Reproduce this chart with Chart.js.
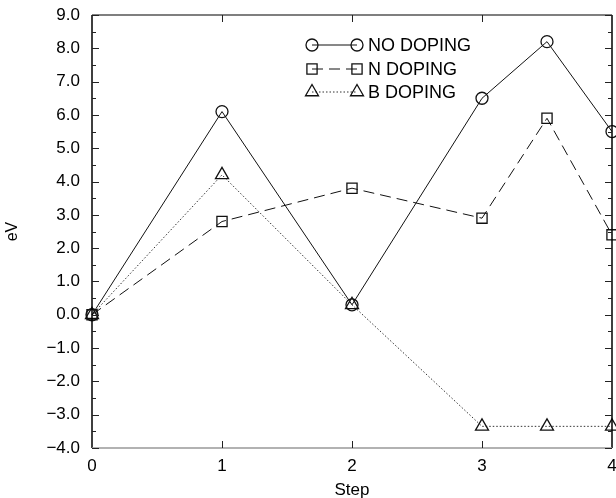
<!DOCTYPE html>
<html>
<head>
<meta charset="utf-8">
<script src="https://cdn.jsdelivr.net/npm/chart.js@4"></script>
<style>
html,body{margin:0;padding:0;background:#fff;}
#wrap{width:616px;height:498px;}
</style>
</head>
<body>
<div id="wrap"><canvas id="c" width="616" height="498"></canvas></div>
<script>
const steps = [0, 1, 2, 3, 3.5, 4];
const noDoping = [0, 6.1, 0.3, 6.5, 8.2, 5.5];
const nDoping = [0, 2.8, 3.8, 2.9, 5.9, 2.4];
const bDoping = [0, 4.2, 0.3, -3.35, -3.35, -3.35];
const seriesNames = ['NO DOPING', 'N DOPING', 'B DOPING'];
const xTickValues = [0, 1, 2, 3, 4];

const FONT = "'Liberation Sans', Arial, Helvetica, sans-serif";

function pts(vals){ return steps.map((s,i)=>({x:s,y:vals[i]})); }

const styles = [
  {pointStyle:'circle', radius:6, dash:[], width:1, color:'#111'},
  {pointStyle:'rect', radius:7.2, dash:[11,6], width:1, color:'#111'},
  {pointStyle:'triangle', radius:7.5, dash:[1.5,2], width:1, color:'#333'}
];

const datasets = [noDoping, nDoping, bDoping].map((vals,i)=>({
  label: seriesNames[i],
  data: pts(vals),
  borderColor: styles[i].color,
  borderWidth: styles[i].width,
  borderDash: styles[i].dash,
  pointStyle: styles[i].pointStyle,
  pointRadius: styles[i].radius,
  pointBorderColor: '#111',
  pointBackgroundColor: 'rgba(0,0,0,0)',
  pointBorderWidth: 1.3,
  fill: false,
  tension: 0,
  clip: false
}));

const framePlugin = {
  id: 'frame',
  afterDraw(chart){
    const ctx = chart.ctx, a = chart.chartArea;
    const xs = chart.scales.x, ys = chart.scales.y;
    ctx.save();
    ctx.lineWidth = 1.5;
    ctx.strokeStyle = '#000';
    ctx.beginPath();
    ctx.moveTo(a.left, a.top); ctx.lineTo(a.left, a.bottom);
    ctx.moveTo(a.right, a.top); ctx.lineTo(a.right, a.bottom);
    ctx.stroke();
    ctx.strokeStyle = '#555';
    ctx.beginPath();
    ctx.moveTo(a.left, a.top); ctx.lineTo(a.right, a.top);
    ctx.stroke();
    ctx.strokeStyle = '#999';
    ctx.beginPath();
    ctx.moveTo(a.left, a.bottom); ctx.lineTo(a.right, a.bottom);
    ctx.stroke();
    ctx.lineWidth = 1;
    ctx.strokeStyle = '#222';
    ctx.beginPath();
    ys.ticks.forEach(t=>{
      const y = Math.round(ys.getPixelForValue(t.value))+0.5;
      ctx.moveTo(a.left, y); ctx.lineTo(a.left+7, y);
      ctx.moveTo(a.right, y); ctx.lineTo(a.right-7, y);
      const m = t.value + 0.5;
      if (m < ys.max){
        const ym = Math.round(ys.getPixelForValue(m))+0.5;
        ctx.moveTo(a.left, ym); ctx.lineTo(a.left+4, ym);
        ctx.moveTo(a.right, ym); ctx.lineTo(a.right-4, ym);
      }
    });
    xs.ticks.forEach(t=>{
      if (t.value <= xs.min || t.value >= xs.max) return;
      const x = Math.round(xs.getPixelForValue(t.value))+0.5;
      ctx.moveTo(x, a.bottom); ctx.lineTo(x, a.bottom-7);
      ctx.moveTo(x, a.top); ctx.lineTo(x, a.top+7);
    });
    ctx.stroke();

    const rows = [45, 69, 92];
    const x1 = 312, x2 = 357, tx = 368;
    chart.data.datasets.forEach((ds,i)=>{
      const y = rows[i];
      ctx.save();
      ctx.strokeStyle = ds.borderColor;
      ctx.lineWidth = ds.borderWidth;
      ctx.setLineDash(ds.borderDash);
      ctx.beginPath(); ctx.moveTo(x1, y); ctx.lineTo(x2, y); ctx.stroke();
      ctx.setLineDash([]);
      ctx.restore();
      ctx.save();
      ctx.strokeStyle = '#111';
      ctx.fillStyle = 'rgba(0,0,0,0)';
      ctx.lineWidth = 1.3;
      const ps = {pointStyle: ds.pointStyle, radius: ds.pointRadius, rotation: 0, borderWidth: 1.3};
      Chart.helpers.drawPoint(ctx, ps, x1, y);
      Chart.helpers.drawPoint(ctx, ps, x2, y);
      ctx.restore();
      ctx.save();
      ctx.fillStyle = '#000';
      ctx.font = '18px ' + FONT;
      ctx.textBaseline = 'middle';
      ctx.fillText(ds.label, tx, y+1);
      ctx.restore();
    });
    ctx.restore();
  }
};

new Chart(document.getElementById('c'), {
  type: 'line',
  data: { datasets },
  options: {
    responsive: false,
    animation: false,
    layout: { autoPadding: false, padding: { top: 15, right: 4, left: 0, bottom: 0 } },
    plugins: { legend: { display: false }, tooltip: { enabled: false } },
    scales: {
      x: {
        type: 'linear', min: 0, max: 4,
        afterBuildTicks(s){ s.ticks = xTickValues.map(v=>({value:v})); },
        grid: { display: false, drawTicks: false },
        border: { display: false },
        ticks: { color: '#000', font: { size: 17, family: FONT }, padding: 8, maxRotation: 0,
                 callback: v => String(v) },
        title: { display: true, text: 'Step', color: '#000', font: { size: 17, family: FONT }, padding: { top: 0, bottom: -3 } },
        afterFit(s){ s.height = 50; s.paddingLeft = 0; s.paddingRight = 0; }
      },
      y: {
        type: 'linear', min: -4, max: 9,
        ticks: { stepSize: 1, color: '#000', font: { size: 17, family: FONT }, padding: 12,
                 callback: v => v.toFixed(1).replace('-', '\u2212') },
        grid: { display: false, drawTicks: false },
        border: { display: false },
        title: { display: true, text: 'eV', color: '#000', font: { size: 16, family: FONT }, padding: { top: 3, bottom: 0 } },
        afterFit(s){ s.width = 92; s.paddingTop = 0; s.paddingBottom = 0; }
      }
    }
  },
  plugins: [framePlugin]
});
</script>
</body>
</html>
